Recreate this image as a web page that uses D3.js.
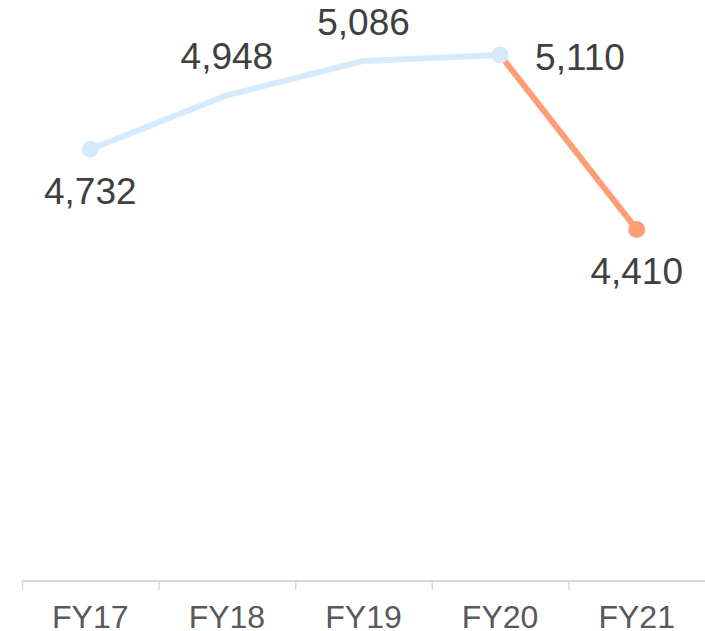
<!DOCTYPE html>
<html>
<head>
<meta charset="utf-8">
<script src="https://cdn.jsdelivr.net/npm/d3@7"></script>
<style>
  html, body { margin: 0; padding: 0; background: #fff; }
  svg { display: block; font-family: "Liberation Sans", Arial, sans-serif; }
</style>
</head>
<body>
<svg id="chart"></svg>
<script>
// chart values
var years = ["FY17", "FY18", "FY19", "FY20", "FY21"];
var values = [4732, 4948, 5086, 5110, 4410];
// which years get a marker, and where their labels sit
var markerYears = ["FY17", "FY20", "FY21"];
var labelSide = ["below", "above", "above", "right", "below"];

var width = 705, height = 631;
var blue = "#d5ebfb", orange = "#ff9e74";

var svg = d3.select("#chart").attr("width", width).attr("height", height);

var x = d3.scaleBand().domain(years).range([22, 705]);
var y = d3.scaleLinear().domain([3000, 5200]).range([581, 32.5]);

var data = years.map(function(d, i) { return { year: d, value: values[i], side: labelSide[i] }; });
var cx = function(d) { return x(d.year) + x.bandwidth() / 2; };

// x axis
var axis = svg.append("g")
    .attr("transform", "translate(0,581)")
    .call(d3.axisBottom(x).tickSize(0).tickPadding(0));
axis.select(".domain").remove();
axis.selectAll("text")
    .attr("y", 47)
    .attr("dy", 0)
    .attr("fill", "#595959")
    .style("font-size", "32px")
    .style("font-family", "Liberation Sans, Arial, sans-serif");

svg.append("line")
    .attr("x1", 22).attr("x2", width)
    .attr("y1", 581).attr("y2", 581)
    .attr("stroke", "#d9d9d9").attr("stroke-width", 2);

// ticks at band edges
svg.selectAll(".tk")
  .data(years)
  .enter().append("line")
    .attr("class", "tk")
    .attr("x1", function(d) { return x(d) + 0.5; })
    .attr("x2", function(d) { return x(d) + 0.5; })
    .attr("y1", 581).attr("y2", 590)
    .attr("stroke", "#d9d9d9").attr("stroke-width", 1.5);

var line = d3.line().x(cx).y(function(d) { return y(d.value); });

// actuals FY17-FY20, then the drop to FY21
svg.append("path")
    .datum(data.slice(0, 4))
    .attr("d", line)
    .attr("fill", "none")
    .attr("stroke", blue)
    .attr("stroke-width", 6)
    .attr("stroke-linejoin", "round");

svg.append("path")
    .datum(data.slice(3))
    .attr("d", line)
    .attr("fill", "none")
    .attr("stroke", orange)
    .attr("stroke-width", 6);

svg.selectAll(".dot")
  .data(data.filter(function(d) { return markerYears.indexOf(d.year) >= 0; }))
  .enter().append("circle")
    .attr("class", "dot")
    .attr("cx", cx)
    .attr("cy", function(d) { return y(d.value); })
    .attr("r", 8.5)
    .attr("fill", function(d) { return d.year === "FY21" ? orange : blue; });

// value labels
var fmt = d3.format(",");
svg.selectAll(".lbl")
  .data(data)
  .enter().append("text")
    .attr("class", "lbl")
    .attr("x", function(d) { return d.side === "right" ? cx(d) + 35 : cx(d); })
    .attr("y", function(d) {
      var py = y(d.value);
      if (d.side === "below") return py + 55;
      if (d.side === "above") return py - 26;
      return py + 15;
    })
    .attr("text-anchor", function(d) { return d.side === "right" ? "start" : "middle"; })
    .attr("fill", "#404040")
    .style("font-size", "37px")
    .text(function(d) { return fmt(d.value); });
</script>
</body>
</html>
